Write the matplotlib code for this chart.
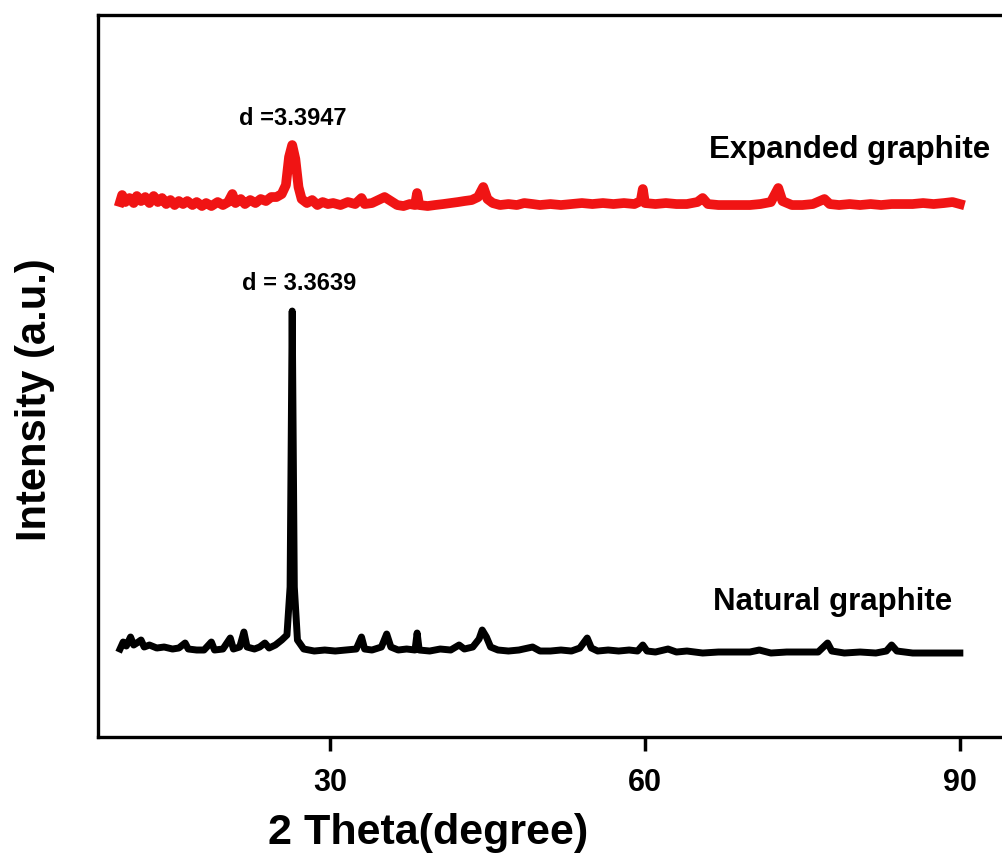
import matplotlib.pyplot as plt

plt.rcParams['font.family'] = ['Liberation Sans', 'DejaVu Sans']
plt.rcParams['font.weight'] = 'bold'

# natural graphite pattern (2 theta in degrees, intensity a.u.)
theta_nat = [10.0, 10.3, 10.6, 11.0, 11.3, 11.6, 12.0, 12.3, 12.8, 13.5, 14.2, 15.0,
             15.6, 16.2, 16.5, 17.3, 18.0, 18.7, 19.0, 19.8, 20.5, 20.8, 21.4, 21.8,
             22.1, 22.8, 23.3, 23.8, 24.2, 24.8, 25.4, 25.9, 26.2, 26.4, 26.6, 26.9,
             27.5, 28.5, 29.5, 30.5, 31.5, 32.5, 33.0, 33.3, 34.0, 34.9, 35.4, 35.8,
             36.5, 37.3, 38.1, 38.3, 38.5, 39.5, 40.5, 41.5, 42.3, 42.8, 43.6, 44.2,
             44.5, 44.9, 45.3, 46.0, 47.0, 48.0, 49.3, 50.0, 51.0, 52.0, 53.0, 53.8,
             54.5, 54.9, 55.5, 56.5, 57.5, 58.5, 59.3, 59.8, 60.2, 61.0, 62.2, 63.0,
             64.0, 65.5, 67.0, 68.5, 70.0, 70.9, 72.0, 73.5, 75.0, 76.5, 77.4, 77.8,
             79.0, 80.5, 82.0, 83.0, 83.5, 84.0, 85.5, 87.0, 88.5, 90.0]
int_nat = [88, 95, 91, 100, 92, 94, 97, 90, 92, 89, 90, 88,
           89, 94, 88, 87, 87, 95, 87, 88, 99, 88, 90, 105,
           90, 88, 90, 94, 89, 92, 97, 102, 150, 426, 150, 97,
           88, 86, 87, 86, 87, 88, 100, 88, 87, 90, 103, 90,
           87, 88, 87, 104, 87, 86, 88, 87, 92, 88, 90, 98,
           107, 100, 90, 87, 86, 87, 90, 86, 86, 87, 86, 89,
           99, 89, 86, 87, 86, 87, 86, 92, 86, 85, 88, 85,
           86, 84, 85, 85, 85, 87, 84, 85, 85, 85, 94, 86,
           84, 85, 84, 86, 92, 86, 84, 84, 84, 84]

# expanded graphite pattern (already shifted up)
theta_exp = [10.0, 10.2, 10.5, 10.9, 11.3, 11.6, 12.0, 12.4, 12.8, 13.2, 13.6, 14.0,
             14.4, 14.8, 15.2, 15.6, 16.0, 16.4, 16.9, 17.3, 17.8, 18.2, 18.7, 19.3,
             19.8, 20.3, 20.7, 21.0, 21.5, 21.9, 22.4, 22.9, 23.4, 23.9, 24.4, 24.9,
             25.4, 25.8, 26.1, 26.4, 26.7, 27.0, 27.3, 27.8, 28.3, 28.8, 29.3, 29.8,
             30.3, 31.0, 31.7, 32.4, 33.0, 33.3, 34.0, 34.6, 35.2, 35.8, 36.4, 37.0,
             37.6, 38.1, 38.3, 38.5, 39.3, 40.0, 40.8, 41.5, 42.2, 42.8, 43.5, 44.1,
             44.6, 45.0, 45.5, 46.2, 47.0, 47.8, 48.5, 49.3, 50.0, 51.0, 52.0, 53.0,
             54.0, 55.0, 56.0, 57.0, 58.0, 59.0, 59.6, 59.8, 60.0, 61.0, 62.0, 63.0,
             64.0, 65.0, 65.5, 66.0, 67.0, 68.0, 69.0, 70.0, 71.0, 72.0, 72.7, 73.1,
             74.0, 75.0, 76.0, 77.1, 77.6, 78.5, 79.5, 80.5, 81.5, 82.5, 83.5, 84.5,
             85.5, 86.5, 87.5, 88.5, 89.3, 90.0]
int_exp = [535, 542, 535, 539, 534, 541, 536, 540, 534, 541, 535, 539,
           533, 537, 532, 536, 533, 536, 532, 535, 531, 534, 531, 535,
           532, 535, 543, 534, 538, 533, 537, 534, 538, 536, 540, 540,
           543, 552, 580, 592, 578, 550, 538, 534, 537, 532, 535, 533,
           534, 532, 535, 533, 539, 533, 534, 537, 540, 536, 532, 531,
           533, 532, 544, 532, 531, 532, 533, 534, 535, 536, 537, 540,
           550, 538, 534, 532, 533, 532, 534, 533, 532, 533, 532, 533,
           534, 533, 534, 533, 534, 533, 536, 548, 534, 533, 534, 533,
           533, 535, 539, 533, 532, 532, 532, 532, 533, 535, 549, 536,
           532, 532, 533, 538, 533, 532, 533, 532, 533, 532, 533, 533,
           533, 534, 533, 534, 535, 533]

fig = plt.figure(figsize=(10.02, 8.55), dpi=100)
ax = fig.add_axes([0.0978, 0.138, 0.910, 0.8444])

ax.plot(theta_exp, int_exp, color='#f01414', lw=7, solid_joinstyle='round')
ax.plot(theta_nat, int_nat, color='black', lw=5, solid_joinstyle='round')

ax.set_xlim(7.9, 94.76)
ax.set_ylim(0, 722)
ax.set_xticks([30, 60, 90])
ax.set_yticks([])
ax.tick_params(axis='x', direction='out', length=10, width=2.5, labelsize=22, pad=12)
for s in ax.spines.values():
    s.set_linewidth(2.4)

ax.text(26.48, 619, 'd =3.3947', ha='center', va='center', fontsize=17, fontweight='bold')
ax.text(27.05, 454, 'd = 3.3639', ha='center', va='center', fontsize=17, fontweight='bold')
ax.text(79.5, 587, 'Expanded graphite', ha='center', va='center', fontsize=22.5, fontweight='bold')
ax.text(77.9, 135, 'Natural graphite', ha='center', va='center', fontsize=22.5, fontweight='bold')

fig.text(428 / 1002, 1 - 833 / 855, '2 Theta(degree)', ha='center', va='center',
         fontsize=31, fontweight='bold')
fig.text(35 / 1002, 1 - 400 / 855, 'Intensity (a.u.)', ha='center', va='center',
         rotation=90, fontsize=30, fontweight='bold')

fig.savefig('out.png', dpi=100)
